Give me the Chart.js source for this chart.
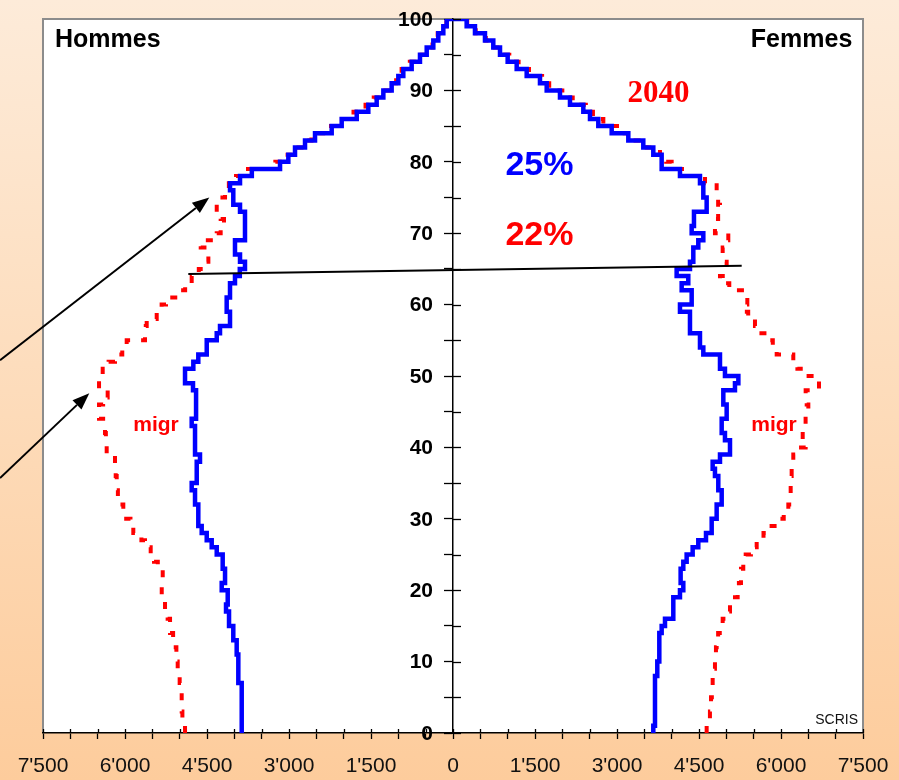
<!DOCTYPE html>
<html><head><meta charset="utf-8">
<script src="https://cdn.jsdelivr.net/npm/chart.js@4.4.0/dist/chart.umd.min.js"></script>
<style>
html,body{margin:0;padding:0;}
body{width:899px;height:780px;overflow:hidden;background:linear-gradient(to bottom,#fdebd9 0%,#fddcbb 50%,#fdcc9c 100%);}
#wrap{position:relative;width:899px;height:780px;}
</style></head><body><div id="wrap"><canvas id="c"></canvas></div>
<script>
// Ages 0..100 (categories)
const ages = Array.from({length: 101}, (_, i) => i);

// Population by single year of age (persons)
const menBlue = [3865,3865,3865,3865,3865,3865,3865,3927,3927,3927,3927,3957,3957,4019,4019,4097,4097,4152,4121,4121,
  4231,4170,4170,4213,4213,4322,4414,4505,4597,4659,4659,4659,4719,4719,4780,4688,4688,4688,4628,4719,
  4719,4719,4719,4780,4700,4700,4700,4700,4756,4902,4902,4750,4659,4505,4505,4322,4262,4079,4079,4140,
  4140,4079,4079,3988,3900,3805,3896,3988,3988,3805,3805,3805,3805,3896,4019,4019,4079,3896,3680,3164,
  3012,2890,2707,2524,2219,2036,1761,1549,1396,1274,1122,1000,909,756,604,481,360,269,177,115,0];
const menRed = [4902,4930,4950,4963,4963,4963,4963,5000,5036,5036,5050,5060,5072,5120,5176,5176,5220,5268,5268,5328,
  5328,5310,5310,5400,5469,5530,5634,5700,5848,5900,6031,6031,6104,6130,6152,6152,6170,6183,6183,6335,
  6335,6350,6366,6400,6475,6475,6400,6317,6475,6475,6408,6300,6183,6050,5969,5634,5620,5603,5420,5330,
  5250,5025,4900,4780,4650,4555,4475,4475,4615,4322,4250,4189,4250,4322,4322,4170,4100,3969,3750,3250,
  3070,2950,2770,2590,2280,2100,1820,1600,1450,1320,1160,1040,940,790,630,500,375,280,185,120,0];
const womenBlue = [3664,3695,3695,3695,3695,3695,3695,3695,3737,3737,3774,3774,3774,3774,3817,3878,4030,4030,4030,4152,
  4213,4164,4164,4213,4274,4384,4487,4628,4732,4732,4823,4823,4915,4915,4853,4853,4792,4750,4884,5067,
  5067,4975,4915,4915,5006,5006,4945,4945,5158,5220,4975,4884,4884,4579,4518,4518,4335,4335,4335,4152,
  4366,4366,4183,4304,4091,4335,4396,4396,4487,4579,4366,4408,4408,4640,4640,4579,4579,4518,4152,3817,
  3817,3664,3481,3207,2903,2658,2506,2384,2140,1957,1714,1591,1348,1165,1000,860,737,585,402,250,0];
const womenRed = [4640,4670,4700,4720,4720,4735,4750,4750,4770,4792,4800,4810,4823,4850,4880,4933,5000,5067,5120,5207,
  5230,5268,5268,5310,5354,5450,5555,5680,5786,5981,6050,6134,6150,6177,6177,6190,6195,6210,6225,6300,
  6451,6397,6397,6450,6500,6500,6470,6451,6695,6695,6408,6300,6225,5921,5850,5768,5600,5524,5400,5323,
  5384,5384,5054,4884,5006,5006,4960,4933,4980,5036,4792,4792,4850,4884,4850,4823,4823,4610,4304,4000,
  3900,3786,3543,3300,3000,2750,2560,2430,2190,2000,1760,1630,1390,1200,1030,890,760,600,415,260,0];

// Tick labels
const xLabelValues = [-7500,-6000,-4500,-3000,-1500,0,1500,3000,4500,6000,7500];
const yLabelValues = [0,10,20,30,40,50,60,70,80,90,100];

function fmt(v){
  const a = Math.abs(v);
  if (a === 0) return '0';
  const th = Math.floor(a/1000), rest = String(a%1000).padStart(3,'0');
  return th + "'" + rest;
}

const toPts = (arr, sign) => arr.map((v, i) => ({x: sign*v, y: ages[i]}));

// annotation geometry (data coordinates)
const refLine = {x1:-4842, y1:64.3, x2:5281, y2:65.45};
const arrows = [
  {x1:-8286, y1:52.2, x2:-4458, y2:75.0},
  {x1:-8286, y1:35.7, x2:-6653, y2:47.6}
];
const notes = [
  {t:'Hommes', x:-7280, y:96.1, align:'left', font:'bold 25px "Liberation Sans", Arial, sans-serif', color:'#000'},
  {t:'Femmes', x:7304, y:96.1, align:'right', font:'bold 25px "Liberation Sans", Arial, sans-serif', color:'#000'},
  {t:'2040', x:3759, y:88.4, align:'center', font:'bold 31px "Liberation Serif", "Times New Roman", serif', color:'#ff0000'},
  {t:'25%', x:1582, y:78.15, align:'center', font:'bold 34px "Liberation Sans", Arial, sans-serif', color:'#0000ff'},
  {t:'22%', x:1582, y:68.35, align:'center', font:'bold 34px "Liberation Sans", Arial, sans-serif', color:'#ff0000'},
  {t:'migr', x:-5433, y:42.3, align:'center', font:'bold 21px "Liberation Sans", Arial, sans-serif', color:'#ff0000'},
  {t:'migr', x:5872, y:42.3, align:'center', font:'bold 21px "Liberation Sans", Arial, sans-serif', color:'#ff0000'},
  {t:'SCRIS', x:7408, y:1.26, align:'right', font:'14px "Liberation Sans", Arial, sans-serif', color:'#111'}
];

const deco = {
  id: 'deco',
  beforeDraw(chart){
    const {ctx, chartArea:a} = chart;
    ctx.save();
    ctx.fillStyle = '#ffffff';
    ctx.fillRect(a.left, a.top, a.right-a.left, a.bottom-a.top);
    ctx.strokeStyle = '#8c8c8c';
    ctx.lineWidth = 2;
    ctx.beginPath();
    ctx.moveTo(a.left, a.bottom); ctx.lineTo(a.left, a.top); ctx.lineTo(a.right, a.top); ctx.lineTo(a.right, a.bottom);
    ctx.stroke();
    ctx.restore();
  },
  afterDraw(chart){
    const {ctx, scales:{x, y}} = chart;
    ctx.save();
    // inward halves of tick marks
    ctx.strokeStyle = '#000'; ctx.lineWidth = 1.3;
    const x0 = x.getPixelForValue(0);
    y.ticks.forEach(t => {
      const py = Math.round(y.getPixelForValue(t.value)) + 0.5;
      ctx.beginPath(); ctx.moveTo(x0, py); ctx.lineTo(x0 + 8, py); ctx.stroke();
    });
    const yb = y.getPixelForValue(0);
    x.ticks.forEach(t => {
      const px = Math.round(x.getPixelForValue(t.value)) + 0.5;
      ctx.beginPath(); ctx.moveTo(px, yb); ctx.lineTo(px, yb - 4); ctx.stroke();
    });
    // y-axis tick labels (left of the central axis)
    ctx.font = 'bold 21px "Liberation Sans", Arial, sans-serif';
    ctx.fillStyle = '#000'; ctx.textAlign = 'right'; ctx.textBaseline = 'middle';
    y.ticks.forEach(t => {
      if (yLabelValues.includes(t.value)) ctx.fillText(String(t.value), x0 - 20, y.getPixelForValue(t.value) + 1);
    });
    // reference line
    ctx.lineWidth = 2;
    ctx.beginPath();
    ctx.moveTo(x.getPixelForValue(refLine.x1), y.getPixelForValue(refLine.y1));
    ctx.lineTo(x.getPixelForValue(refLine.x2), y.getPixelForValue(refLine.y2));
    ctx.stroke();
    // arrows
    arrows.forEach(ar => {
      const sx = x.getPixelForValue(ar.x1), sy = y.getPixelForValue(ar.y1);
      const ex = x.getPixelForValue(ar.x2), ey = y.getPixelForValue(ar.y2);
      const ang = Math.atan2(ey - sy, ex - sx);
      const L = 17, W = 6.5;
      const bx = ex - L*Math.cos(ang), by = ey - L*Math.sin(ang);
      ctx.lineWidth = 2; ctx.strokeStyle = '#000'; ctx.fillStyle = '#000';
      ctx.beginPath(); ctx.moveTo(sx, sy); ctx.lineTo(bx, by); ctx.stroke();
      ctx.beginPath();
      ctx.moveTo(ex, ey);
      ctx.lineTo(bx + W*Math.sin(ang), by - W*Math.cos(ang));
      ctx.lineTo(bx - W*Math.sin(ang), by + W*Math.cos(ang));
      ctx.closePath(); ctx.fill();
    });
    // text notes
    ctx.textBaseline = 'alphabetic';
    notes.forEach(n => {
      ctx.font = n.font; ctx.fillStyle = n.color; ctx.textAlign = n.align;
      ctx.fillText(n.t, x.getPixelForValue(n.x), y.getPixelForValue(n.y));
    });
    ctx.restore();
  }
};

const lineBase = {pointRadius: 0, stepped: 'after', tension: 0, fill: false, borderCapStyle: 'butt', borderJoinStyle: 'miter'};

new Chart(document.getElementById('c'), {
  type: 'line',
  data: {
    datasets: [
      Object.assign({label: 'Hommes actuel', data: toPts(menBlue, -1), borderColor: '#0000ff', borderWidth: 4.5}, lineBase),
      Object.assign({label: 'Femmes actuel', data: toPts(womenBlue, 1), borderColor: '#0000ff', borderWidth: 4.5}, lineBase),
      Object.assign({label: 'Hommes 2040', data: toPts(menRed, -1), borderColor: '#ff0000', borderWidth: 4, borderDash: [7, 11]}, lineBase),
      Object.assign({label: 'Femmes 2040', data: toPts(womenRed, 1), borderColor: '#ff0000', borderWidth: 4, borderDash: [7, 11]}, lineBase)
    ]
  },
  options: {
    indexAxis: 'y',
    responsive: true,
    maintainAspectRatio: false,
    animation: false,
    events: [],
    layout: {padding: {left: 43, right: 36, top: 19, bottom: 0}},
    plugins: {legend: {display: false}, tooltip: {enabled: false}},
    scales: {
      x: {
        type: 'linear', min: -7500, max: 7500, position: 'bottom',
        afterFit: (s) => { s.height = 47; s.paddingLeft = 0; s.paddingRight = 0; },
        grid: {drawOnChartArea: false, drawTicks: true, tickLength: 6, tickColor: '#000', tickWidth: 1.3},
        border: {display: true, color: '#000', width: 1.5},
        ticks: {
          stepSize: 500, autoSkip: false, maxRotation: 0, padding: 15, color: '#111',
          font: {family: '"Liberation Sans", Arial, sans-serif', size: 21},
          callback: (v) => xLabelValues.includes(v) ? fmt(v) : ''
        }
      },
      y: {
        type: 'linear', min: 0, max: 100, position: {x: 0},
        afterFit: (s) => { s.width = 0; s.paddingTop = 0; s.paddingBottom = 0; },
        grid: {drawOnChartArea: false, drawTicks: true, tickLength: 8, tickColor: '#000', tickWidth: 1.3},
        border: {display: true, color: '#000', width: 1.5},
        ticks: {stepSize: 5, autoSkip: false, display: false}
      }
    }
  },
  plugins: [deco]
});
</script></body></html>
